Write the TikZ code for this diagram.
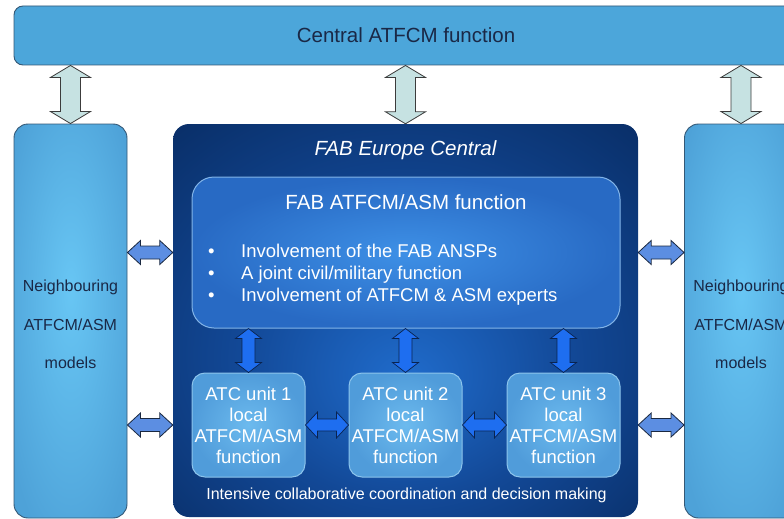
\documentclass[tikz,border=0pt]{standalone}
\usepackage{fontspec}
\setmainfont{Liberation Sans}
\usetikzlibrary{calc}
\definecolor{barlo}{RGB}{76,166,218}
\definecolor{barhi}{RGB}{98,196,244}
\definecolor{sidelo}{RGB}{78,162,216}
\definecolor{sidehi}{RGB}{104,198,244}
\definecolor{barline}{RGB}{52,88,118}
\definecolor{navytxt}{RGB}{26,40,70}
\definecolor{fabdark}{RGB}{7,40,92}
\definecolor{fabmid}{RGB}{18,72,150}
\definecolor{fablight}{RGB}{32,108,204}
\definecolor{fnin}{RGB}{62,144,230}
\definecolor{fnout}{RGB}{40,106,196}
\definecolor{fnline}{RGB}{130,180,232}
\definecolor{atcin}{RGB}{108,186,238}
\definecolor{atcout}{RGB}{80,156,218}
\definecolor{atcline}{RGB}{140,196,236}
\definecolor{toparrowfill}{RGB}{198,226,226}
\definecolor{toparrowline}{RGB}{60,60,60}
\definecolor{bluearrow}{RGB}{30,110,240}
\definecolor{bluearrowline}{RGB}{10,36,80}
\definecolor{sidearrow}{RGB}{92,142,226}
\definecolor{sidearrowline}{RGB}{26,40,64}
\pgfdeclareradialshading{fabglow}{\pgfpoint{0bp}{-8bp}}{color(0bp)=(fablight); color(18bp)=(fabmid); color(42bp)=(fabdark); color(50bp)=(fabdark)}
\pgfdeclareradialshading{sideglow}{\pgfpoint{0bp}{4bp}}{color(0bp)=(sidehi); color(32bp)=(sidelo); color(50bp)=(sidelo)}
\begin{document}
\begin{tikzpicture}[x=1pt,y=-1pt,
  vdbl/.style n args={3}{to path={let \p1=(\tikztostart),\p2=(\tikztotarget) in
     (\x1,\y1) -- (\x1+#2,\y1-#3) -- (\x1+#1,\y1-#3) -- (\x1+#1,\y2+#3) -- (\x1+#2,\y2+#3) -- (\x1,\y2)
     -- (\x1-#2,\y2+#3) -- (\x1-#1,\y2+#3) -- (\x1-#1,\y1-#3) -- (\x1-#2,\y1-#3) -- cycle}},
  hdbl/.style n args={3}{to path={let \p1=(\tikztostart),\p2=(\tikztotarget) in
     (\x1,\y1) -- (\x1+#3,\y1+#2) -- (\x1+#3,\y1+#1) -- (\x2-#3,\y1+#1) -- (\x2-#3,\y1+#2) -- (\x2,\y1)
     -- (\x2-#3,\y1-#2) -- (\x2-#3,\y1-#1) -- (\x1+#3,\y1-#1) -- (\x1+#3,\y1-#2) -- cycle}},
  toparrow/.style={fill=toparrowfill, draw=toparrowline, line width=0.8pt, line join=miter, vdbl={10pt}{20pt}{12pt}},
  innerv/.style={fill=bluearrow, draw=bluearrowline, line width=0.7pt, line join=miter, vdbl={6.5pt}{13pt}{10pt}},
  innerh/.style={fill=bluearrow, draw=bluearrowline, line width=0.7pt, line join=miter, hdbl={6pt}{13pt}{12pt}},
  sidearr/.style={fill=sidearrow, draw=sidearrowline, line width=0.8pt, line join=miter, hdbl={6.5pt}{12pt}{13pt}},
  topbox/.style={draw=barline, line width=0.9pt, left color=barlo, middle color=barhi, right color=barlo, inner sep=0pt},
  sidebox/.style={draw=barline, line width=0.9pt, shading=sideglow, rounded corners=14pt,
     minimum width=113pt, minimum height=394pt, inner sep=0pt},
  atcbox/.style={draw=atcline, line width=1pt, inner color=atcin, outer color=atcout, rounded corners=13pt,
     minimum width=113pt, minimum height=104pt, inner sep=0pt, align=center, text=white,
     font=\fontsize{18.5}{21}\selectfont},
  sidetxt/.style={align=center, text=navytxt, font=\fontsize{16}{38.5}\selectfont}
]
\useasboundingbox (0,0) rectangle (784,519);
\clip (0,0) rectangle (784,519);

% top bar
\node[topbox, rounded corners=9pt, minimum width=784pt, minimum height=59pt, text=navytxt,
      font=\fontsize{20.5}{24}\selectfont] (top) at (406,35.5) {Central ATFCM function};

% side boxes
\node[sidebox] (left) at (70.5,321) {};
\node[sidetxt] (lefttxt) at (70.5,324.5) {Neighbouring\\ATFCM/ASM\\models};
\node[sidebox] (right) at (741,321) {};
\node[sidetxt] (righttxt) at (741,324.5) {Neighbouring\\ATFCM/ASM\\models};

% FAB Europe Central box
\node[rounded corners=16pt, shading=fabglow, minimum width=465pt, minimum height=393pt, inner sep=0pt] (fab) at (405.5,320.5) {};
\node[text=white, font=\itshape\fontsize{20.5}{24}\selectfont] (fabtitle) at (405.5,150) {FAB Europe Central};

% FAB ATFCM/ASM function box
\node[draw=fnline, line width=1pt, inner color=fnin, outer color=fnout, rounded corners=22pt,
      minimum width=428pt, minimum height=151pt, inner sep=0pt] (fabfn) at (406,252.5) {};
\node[text=white, font=\fontsize{20.5}{24}\selectfont] (fntitle) at (406,202) {FAB ATFCM/ASM function};
\node[anchor=west, inner sep=0pt, text=white, align=left, font=\fontsize{18.5}{22}\selectfont] (bullets) at (208,275)
  {\makebox[33pt][l]{\textbullet}Involvement of the FAB ANSPs\\
   \makebox[33pt][l]{\textbullet}A joint civil/military function\\
   \makebox[33pt][l]{\textbullet}Involvement of ATFCM \& ASM experts};

% ATC units
\node[atcbox] (atc1) at (248.5,425) {ATC unit 1\\local\\ATFCM/ASM\\function};
\node[atcbox] (atc2) at (405.5,425) {ATC unit 2\\local\\ATFCM/ASM\\function};
\node[atcbox] (atc3) at (563.5,425) {ATC unit 3\\local\\ATFCM/ASM\\function};

\node[text=white, font=\fontsize{16}{19}\selectfont] (bottomtxt) at (406.5,495)
  {Intensive collaborative coordination and decision making};

% top arrows
\draw[toparrow] (top.south -| left.north) to (left.north);
\draw[toparrow] (top.south -| fab.north) to (fab.north);
\draw[toparrow] (top.south -| right.north) to (right.north);

% side arrows
\draw[sidearr] (left.east |- fabfn.center) to (fab.west |- fabfn.center);
\draw[sidearr] (left.east |- atc1.center) to (fab.west |- atc1.center);
\draw[sidearr] (fab.east |- fabfn.center) to (right.west |- fabfn.center);
\draw[sidearr] (fab.east |- atc1.center) to (right.west |- atc1.center);

% inner arrows
\draw[innerv] (fabfn.south -| atc1.north) to (atc1.north);
\draw[innerv] (fabfn.south -| atc2.north) to (atc2.north);
\draw[innerv] (fabfn.south -| atc3.north) to (atc3.north);
\draw[innerh] (atc1.east) to (atc2.west);
\draw[innerh] (atc2.east) to (atc3.west);
\end{tikzpicture}
\end{document}
